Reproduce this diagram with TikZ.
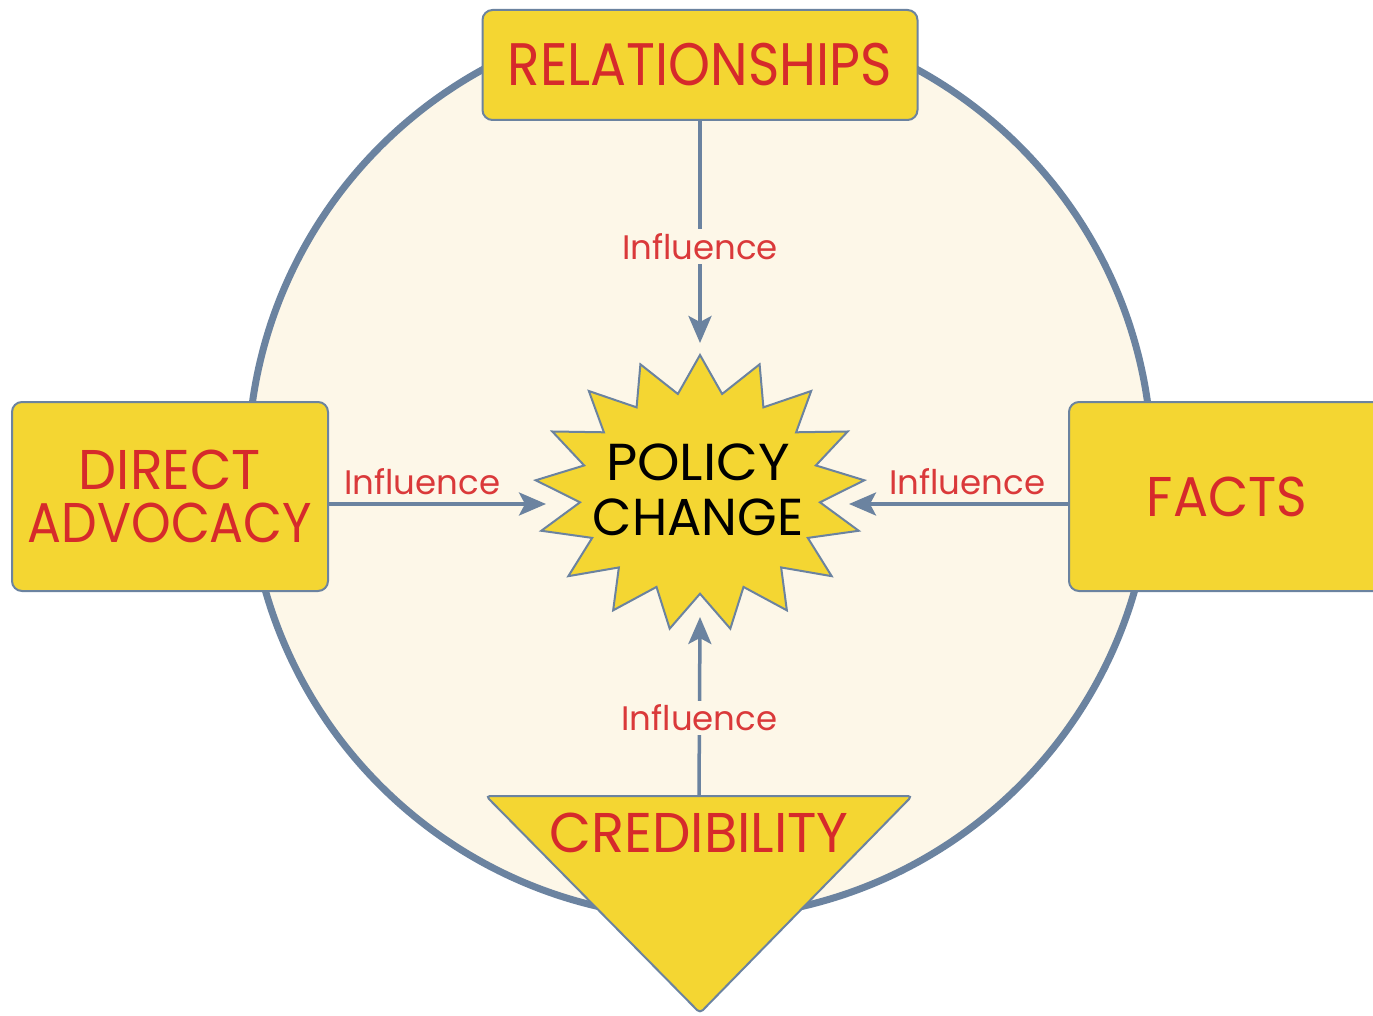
\documentclass[tikz,border=0pt]{standalone}
\usepackage{graphicx}
\usepackage{fontspec}
\setmainfont{Poppins}
\usetikzlibrary{arrows.meta,calc}
\definecolor{gold}{HTML}{F4D632}
\definecolor{brick}{HTML}{D62A2B}
\definecolor{slate}{HTML}{6B83A0}
\definecolor{cream}{HTML}{FDF7E8}
% narrow a word horizontally, keeping its height
\newcommand\hsq[2]{\scalebox{#1}[1]{#2}}
\begin{document}
\begin{tikzpicture}[x=1pt,y=-1pt,
  box/.style={draw=slate, line width=2pt, fill=gold, rounded corners=10pt,
    text=brick, align=center, inner sep=0pt},
  link/.style={draw=slate, line width=3.5pt,
    -{Stealth[length=27pt,width=23pt,inset=6pt]}},
  lab/.style={text=brick!90!pink, font=\fontsize{34}{36}\selectfont, fill=cream, inner sep=4pt},
]
\useasboundingbox (0,0) rectangle (1373,1016);
\fill[white] (0,0) rectangle (1373,1016);

% backdrop circle
\filldraw[fill=cream, draw=slate, line width=7pt] (700,466) circle[radius=452];

% the four drivers
\node[box, minimum width=435, minimum height=110, font=\fontsize{60}{60}\selectfont]
  (rel) at (700,65) {\hsq{0.89}{RELATIONSHIPS}};
\node[box, minimum width=316, minimum height=189, font=\fontsize{56}{53}\selectfont]
  (adv) at (170,496.5) {\hsq{0.96}{DIRECT}\\\hsq{0.90}{ADVOCACY}};
\node[box, minimum width=316, minimum height=189, font=\fontsize{56}{56}\selectfont]
  (facts) at (1227,496.5) {\hsq{0.93}{FACTS}};

\filldraw[fill=gold, draw=slate, line width=2pt, rounded corners=4pt]
  (486,796) -- (912,796) -- (700,1013) -- cycle;
\node[text=brick, font=\fontsize{56}{56}\selectfont, minimum width=426,
  minimum height=72, inner sep=0pt] (cred) at (699,833) {\hsq{0.97}{CREDIBILITY}};

% central burst: 17 points on an ellipse
\filldraw[fill=gold, draw=slate, line width=2pt] (700,355)
  \foreach \i in {1,...,33}{
    -- ({700+165*(0.865+0.135*cos(\i*180))*cos(90+\i*180/17)},
        {493-138*(0.865+0.135*cos(\i*180))*sin(90+\i*180/17)})
  } -- cycle;
\node[font=\fontsize{52}{55}\selectfont, align=center, inner sep=0pt]
  (policy) at (698,490) {\hsq{1.04}{POLICY}\\\hsq{0.98}{CHANGE}};

% arrow targets on the burst
\coordinate (hitN) at (700,343);
\coordinate (hitS) at (700,617);
\coordinate (hitW) at (546,504);
\coordinate (hitE) at (849,504);

% influence arrows
\draw[link] (rel.south) -- node[lab, pos=0.565] {Influence} (hitN);
\draw[link] (cred.north) -- node[lab, pos=0.44] {Influence} (hitS);
\draw[link] (adv.east |- hitW) -- node[lab, above=3pt, pos=0.43, fill=none] {Influence} (hitW);
\draw[link] (facts.west |- hitE) -- node[lab, above=3pt, pos=0.46, fill=none] {Influence} (hitE);
\end{tikzpicture}
\end{document}
